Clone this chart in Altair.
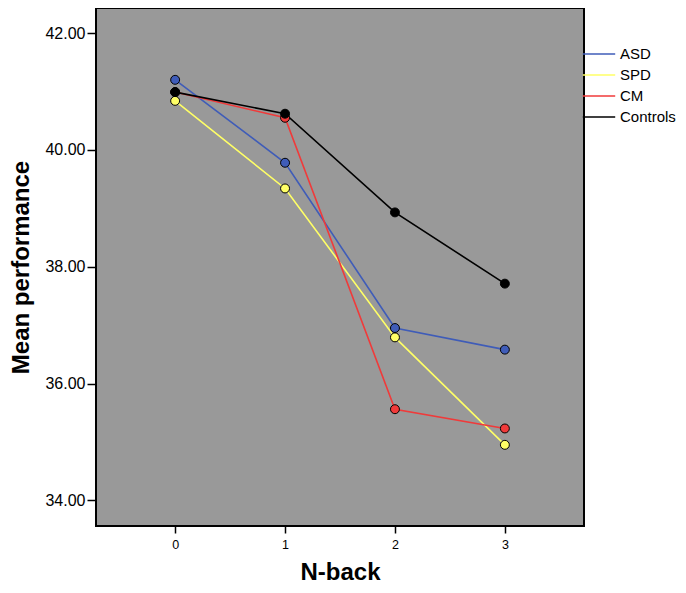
import altair as alt
import pandas as pd

groups = ["ASD", "SPD", "CM", "Controls"]
colors = ["#3f5cb8", "#ffff66", "#f03a3a", "#000000"]
nback = [0, 1, 2, 3]
asd = [41.20, 39.78, 36.95, 36.58]
spd = [40.84, 39.34, 36.79, 34.95]
cm = [40.99, 40.55, 35.56, 35.23]
controls = [40.99, 40.62, 38.93, 37.71]
y_ticks = [34, 36, 38, 40, 42]

rows = []
for g, vals in zip(groups, [asd, spd, cm, controls]):
    for n, v in zip(nback, vals):
        rows.append({"group": g, "nback": n, "perf": v})
df = pd.DataFrame(rows)

x = alt.X("nback:Q",
          scale=alt.Scale(domain=[-0.72, 3.72], nice=False, zero=False),
          axis=alt.Axis(values=nback, format="d", title="N-back", grid=False,
                        domain=False, tickSize=7, tickWidth=1.5, tickColor="black",
                        labelFontSize=12.5, labelPadding=5, labelColor="black",
                        labelFont="Liberation Sans",
                        titleFontSize=24, titleFontWeight="bold", titleFont="Liberation Sans",
                        titleColor="black", titlePadding=10))
y = alt.Y("perf:Q",
          scale=alt.Scale(domain=[33.56, 42.43], nice=False, zero=False),
          axis=alt.Axis(values=y_ticks, format=".2f", title="Mean performance", grid=False,
                        domain=False, tickSize=9, tickWidth=1.5, tickColor="black",
                        labelFontSize=16, labelPadding=2, labelColor="black",
                        labelFont="Liberation Sans",
                        titleFontSize=24, titleFontWeight="bold", titleFont="Liberation Sans",
                        titleColor="black", titlePadding=11))

lines = alt.Chart(df).mark_line(strokeWidth=1.6).encode(
    x=x, y=y,
    color=alt.Color("group:N", sort=groups,
                    scale=alt.Scale(domain=groups, range=colors),
                    legend=alt.Legend(title=None, orient="none", legendX=493, legendY=36,
                                      symbolType="M-1.8,0H1.8", symbolSize=324,
                                      symbolStrokeWidth=1.6, labelFontSize=15,
                                      labelFont="Liberation Sans", labelColor="black",
                                      labelOffset=11, rowPadding=3)),
    order=alt.Order("nback:Q"),
)

points = alt.Chart(df).mark_point(filled=True, size=80, stroke="black", strokeWidth=1,
                                  opacity=1).encode(
    x=x, y=y,
    fill=alt.Fill("group:N", scale=alt.Scale(domain=groups, range=colors), legend=None),
)

chart = alt.layer(lines, points).resolve_scale(fill="independent").properties(
    width=488, height=518,
    autosize=alt.AutoSizeParams(type="none"),
    padding={"left": 88, "top": 0, "right": 94, "bottom": 59},
).configure_view(fill="#999999", stroke="black", strokeWidth=2)

chart.save("out.html", embed_options={"renderer": "svg", "actions": False})
